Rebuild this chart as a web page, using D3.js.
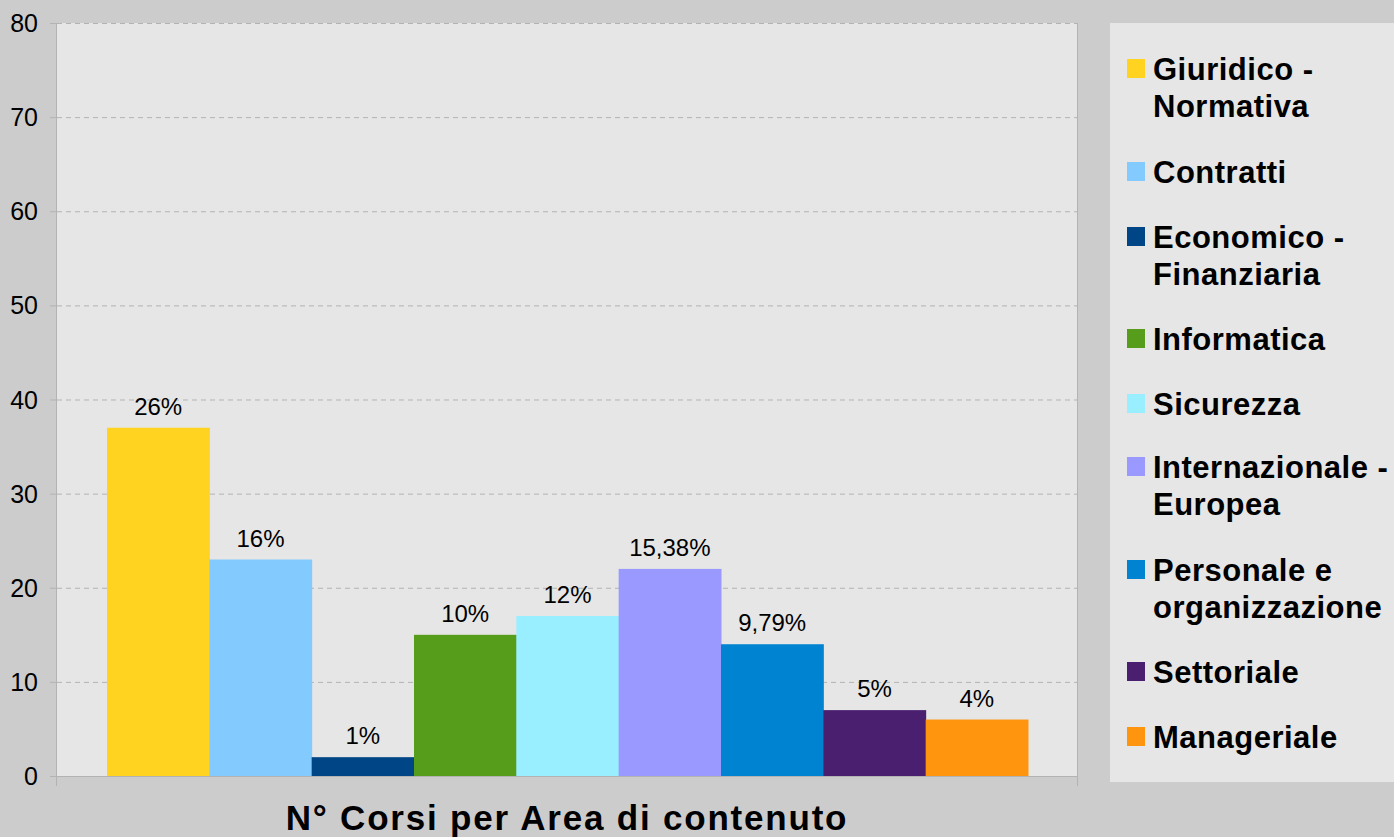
<!DOCTYPE html>
<html><head><meta charset="utf-8">
<script src="https://cdn.jsdelivr.net/npm/d3@7"></script>
<style>html,body{margin:0;padding:0;background:#cccccc;}svg{display:block;font-family:"Liberation Sans",Arial,sans-serif;}</style>
</head><body><svg id="c" width="1394" height="837"></svg>
<script>
const categories = ["Giuridico - Normativa","Contratti","Economico - Finanziaria","Informatica","Sicurezza","Internazionale - Europea","Personale e organizzazione","Settoriale","Manageriale"];
const legendLines = [["Giuridico -","Normativa"],["Contratti"],["Economico -","Finanziaria"],["Informatica"],["Sicurezza"],["Internazionale -","Europea"],["Personale e","organizzazione"],["Settoriale"],["Manageriale"]];
const values = [37,23,2,15,17,22,14,7,6];
const pctLabels = ["26%","16%","1%","10%","12%","15,38%","9,79%","5%","4%"];
const colors = ["#ffd320","#83caff","#004586","#579d1c","#99eeff","#9999ff","#0084d1","#4b1f6f","#ff950e"];
const yTicks = [0,10,20,30,40,50,60,70,80];
const title = "N° Corsi per Area di contenuto";

const svg = d3.select("#c");
const L=57,R=1078,T=23,B=776;
svg.append("rect").attr("x",L).attr("y",T).attr("width",R-L).attr("height",B-T).attr("fill","#e6e6e6");
const y = d3.scaleLinear().domain([0,80]).range([B,T]);
const x = d3.scaleBand().domain(categories).range([L+50,R-50]).padding(0);

// grid
svg.append("g").selectAll("line").data(yTicks.filter(d=>d>0)).join("line")
 .attr("x1",L).attr("x2",R).attr("y1",d=>y(d)+0.5).attr("y2",d=>y(d)+0.5)
 .attr("stroke","#b3b3b3").attr("stroke-dasharray","5,4");
// bars
svg.append("g").selectAll("rect").data(values).join("rect")
 .attr("x",(d,i)=>x(categories[i])).attr("width",x.bandwidth()+0.5)
 .attr("y",d=>y(d)).attr("height",d=>B-y(d)).attr("fill",(d,i)=>colors[i]);
// labels
svg.append("g").selectAll("text").data(values).join("text")
 .attr("x",(d,i)=>x(categories[i])+x.bandwidth()/2).attr("y",d=>y(d)-13)
 .attr("text-anchor","middle").attr("font-size",24).attr("fill","#000")
 .text((d,i)=>pctLabels[i]);
// axes lines
svg.append("line").attr("x1",L-0.5).attr("x2",L-0.5).attr("y1",T).attr("y2",B+10).attr("stroke","#b3b3b3");
svg.append("line").attr("x1",R-0.5).attr("x2",R-0.5).attr("y1",T).attr("y2",B+10).attr("stroke","#b3b3b3");
svg.append("line").attr("x1",L-7).attr("x2",R).attr("y1",B+0.5).attr("y2",B+0.5).attr("stroke","#b3b3b3");
svg.append("g").selectAll("line").data(yTicks).join("line")
 .attr("x1",L-7).attr("x2",L).attr("y1",d=>y(d)+0.5).attr("y2",d=>y(d)+0.5).attr("stroke","#b3b3b3");
svg.append("g").selectAll("text").data(yTicks).join("text")
 .attr("x",38).attr("y",d=>y(d)+9).attr("text-anchor","end").attr("font-size",25).attr("fill","#000")
 .text(d=>d);
// title
svg.append("text").attr("x",567).attr("y",830).attr("text-anchor","middle")
 .attr("font-size",35).attr("font-weight","bold").attr("letter-spacing","1.8px").text(title);
// legend
svg.append("rect").attr("x",1110).attr("y",23).attr("width",300).attr("height",759).attr("fill","#e6e6e6");
const baselines=[80,183,248,350,415,478,581,683,748];
const lg = svg.append("g");
legendLines.forEach((lines,i)=>{
  lg.append("rect").attr("x",1127).attr("y",baselines[i]-21).attr("width",18).attr("height",19).attr("fill",colors[i]);
  const t = lg.append("text").attr("x",1153).attr("y",baselines[i]).attr("font-size",31).attr("font-weight","bold").attr("letter-spacing","0.5px");
  lines.forEach((s,j)=>t.append("tspan").attr("x",1153).attr("dy",j?37:0).text(s));
});
</script></body></html>
